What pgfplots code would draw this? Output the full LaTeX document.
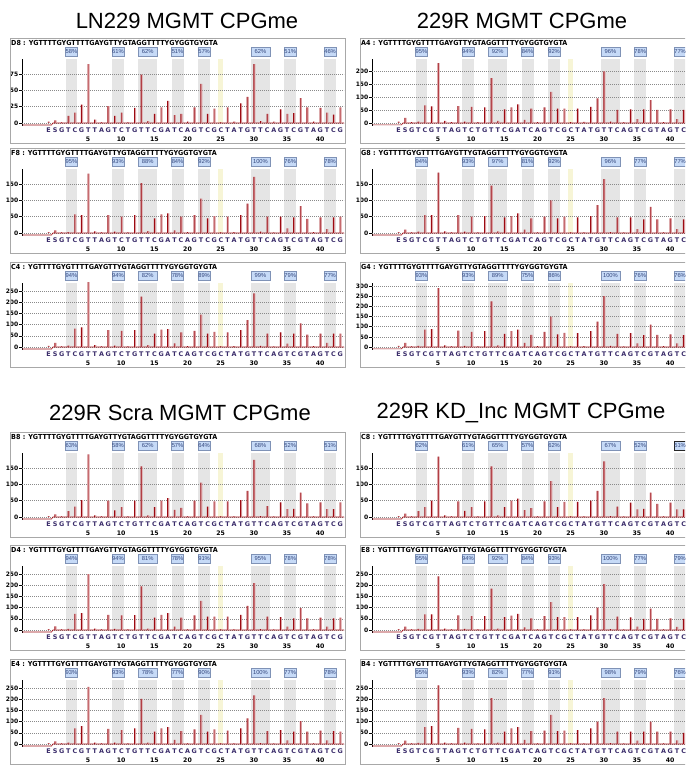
\documentclass[border=0pt]{standalone}
\usepackage{fontspec}
\setmainfont{Liberation Sans}
\newfontfamily\dv{DejaVu Sans}
\usepackage{pgfplots}
\usepackage{pgfplotstable}
\pgfplotsset{compat=1.18}
\definecolor{pk}{HTML}{9C0A12}
\definecolor{pkl}{HTML}{DDA0A3}
\definecolor{bandc}{HTML}{E5E5E5}
\definecolor{bandy}{HTML}{F7F5D6}
\definecolor{boxf}{HTML}{C6DAF7}
\definecolor{boxd}{HTML}{7F92B6}
\definecolor{pctc}{HTML}{33467C}
\definecolor{disp}{HTML}{3A2C6A}
\definecolor{frm}{HTML}{A8A8A8}
\definecolor{gridc}{HTML}{8A8A8A}

% peak heights per dispensation (E=-1, S=0, 1..43)
\pgfplotstableread[row sep=\\]{x h\\ -1 2\\ 0 4\\ 1 1\\ 2 11\\ 3 16\\ 4 28\\ 5 90\\ 6 5\\ 7 1\\ 8 26\\ 9 11\\ 10 16\\ 11 1\\ 12 23\\ 13 74\\ 14 3\\ 15 14\\ 16 24\\ 17 34\\ 18 12\\ 19 14\\ 20 2\\ 21 24\\ 22 60\\ 23 14\\ 24 22\\ 25 1\\ 26 24\\ 27 2\\ 28 30\\ 29 40\\ 30 90\\ 31 3\\ 32 14\\ 33 2\\ 34 21\\ 35 14\\ 36 15\\ 37 38\\ 38 24\\ 39 2\\ 40 23\\ 41 16\\ 42 13\\ 43 24\\}\tDeight
\pgfplotstableread[row sep=\\]{x h\\ -1 5\\ 0 20\\ 1 3\\ 2 5\\ 3 68\\ 4 64\\ 5 230\\ 6 8\\ 7 3\\ 8 65\\ 9 5\\ 10 62\\ 11 3\\ 12 60\\ 13 172\\ 14 8\\ 15 52\\ 16 60\\ 17 72\\ 18 12\\ 19 55\\ 20 3\\ 21 60\\ 22 120\\ 23 55\\ 24 55\\ 25 3\\ 26 55\\ 27 4\\ 28 62\\ 29 95\\ 30 198\\ 31 5\\ 32 50\\ 33 3\\ 34 52\\ 35 15\\ 36 52\\ 37 88\\ 38 50\\ 39 3\\ 40 52\\ 41 15\\ 42 50\\ 43 52\\}\tAfour
\pgfplotstableread[row sep=\\]{x h\\ -1 3\\ 0 8\\ 1 2\\ 2 3\\ 3 57\\ 4 55\\ 5 182\\ 6 5\\ 7 2\\ 8 55\\ 9 4\\ 10 50\\ 11 2\\ 12 55\\ 13 153\\ 14 6\\ 15 45\\ 16 57\\ 17 60\\ 18 8\\ 19 50\\ 20 3\\ 21 55\\ 22 105\\ 23 45\\ 24 52\\ 25 2\\ 26 50\\ 27 3\\ 28 55\\ 29 90\\ 30 172\\ 31 4\\ 32 50\\ 33 2\\ 34 50\\ 35 14\\ 36 48\\ 37 82\\ 38 43\\ 39 3\\ 40 48\\ 41 12\\ 42 48\\ 43 50\\}\tFeight
\pgfplotstableread[row sep=\\]{x h\\ -1 3\\ 0 10\\ 1 2\\ 2 4\\ 3 55\\ 4 55\\ 5 185\\ 6 5\\ 7 2\\ 8 55\\ 9 4\\ 10 50\\ 11 2\\ 12 52\\ 13 145\\ 14 5\\ 15 48\\ 16 52\\ 17 60\\ 18 10\\ 19 45\\ 20 2\\ 21 50\\ 22 100\\ 23 45\\ 24 50\\ 25 2\\ 26 48\\ 27 2\\ 28 52\\ 29 85\\ 30 165\\ 31 3\\ 32 48\\ 33 2\\ 34 48\\ 35 12\\ 36 42\\ 37 80\\ 38 42\\ 39 2\\ 40 45\\ 41 12\\ 42 42\\ 43 45\\}\tGeight
\pgfplotstableread[row sep=\\]{x h\\ -1 5\\ 0 18\\ 1 3\\ 2 6\\ 3 82\\ 4 88\\ 5 290\\ 6 8\\ 7 3\\ 8 75\\ 9 6\\ 10 72\\ 11 3\\ 12 75\\ 13 225\\ 14 8\\ 15 60\\ 16 78\\ 17 80\\ 18 16\\ 19 65\\ 20 4\\ 21 72\\ 22 145\\ 23 60\\ 24 68\\ 25 3\\ 26 65\\ 27 4\\ 28 75\\ 29 120\\ 30 240\\ 31 5\\ 32 60\\ 33 3\\ 34 65\\ 35 15\\ 36 60\\ 37 105\\ 38 55\\ 39 4\\ 40 60\\ 41 18\\ 42 60\\ 43 60\\}\tCfour
\pgfplotstableread[row sep=\\]{x h\\ -1 5\\ 0 20\\ 1 3\\ 2 6\\ 3 85\\ 4 88\\ 5 290\\ 6 8\\ 7 3\\ 8 80\\ 9 6\\ 10 75\\ 11 3\\ 12 78\\ 13 225\\ 14 8\\ 15 65\\ 16 78\\ 17 85\\ 18 20\\ 19 60\\ 20 4\\ 21 75\\ 22 150\\ 23 62\\ 24 70\\ 25 3\\ 26 68\\ 27 4\\ 28 78\\ 29 125\\ 30 250\\ 31 5\\ 32 65\\ 33 3\\ 34 68\\ 35 18\\ 36 58\\ 37 110\\ 38 60\\ 39 4\\ 40 62\\ 41 18\\ 42 58\\ 43 62\\}\tGfour
\pgfplotstableread[row sep=\\]{x h\\ -1 3\\ 0 8\\ 1 2\\ 2 18\\ 3 32\\ 4 52\\ 5 192\\ 6 5\\ 7 2\\ 8 50\\ 9 20\\ 10 30\\ 11 2\\ 12 50\\ 13 155\\ 14 5\\ 15 30\\ 16 50\\ 17 58\\ 18 22\\ 19 28\\ 20 2\\ 21 50\\ 22 105\\ 23 32\\ 24 48\\ 25 2\\ 26 48\\ 27 2\\ 28 52\\ 29 80\\ 30 175\\ 31 3\\ 32 33\\ 33 2\\ 34 45\\ 35 24\\ 36 25\\ 37 75\\ 38 42\\ 39 2\\ 40 45\\ 41 24\\ 42 24\\ 43 45\\}\tBeight
\pgfplotstableread[row sep=\\]{x h\\ -1 3\\ 0 10\\ 1 2\\ 2 18\\ 3 30\\ 4 50\\ 5 185\\ 6 5\\ 7 2\\ 8 48\\ 9 19\\ 10 30\\ 11 2\\ 12 48\\ 13 155\\ 14 5\\ 15 30\\ 16 50\\ 17 56\\ 18 21\\ 19 27\\ 20 2\\ 21 48\\ 22 110\\ 23 30\\ 24 46\\ 25 2\\ 26 46\\ 27 2\\ 28 50\\ 29 80\\ 30 170\\ 31 3\\ 32 32\\ 33 2\\ 34 44\\ 35 23\\ 36 25\\ 37 75\\ 38 40\\ 39 2\\ 40 44\\ 41 23\\ 42 23\\ 43 44\\}\tCeight
\pgfplotstableread[row sep=\\]{x h\\ -1 4\\ 0 16\\ 1 3\\ 2 5\\ 3 72\\ 4 75\\ 5 250\\ 6 6\\ 7 3\\ 8 68\\ 9 5\\ 10 65\\ 11 3\\ 12 66\\ 13 195\\ 14 6\\ 15 55\\ 16 68\\ 17 75\\ 18 15\\ 19 55\\ 20 3\\ 21 65\\ 22 130\\ 23 60\\ 24 60\\ 25 3\\ 26 60\\ 27 3\\ 28 68\\ 29 108\\ 30 210\\ 31 4\\ 32 60\\ 33 3\\ 34 58\\ 35 15\\ 36 52\\ 37 98\\ 38 52\\ 39 3\\ 40 55\\ 41 15\\ 42 52\\ 43 55\\}\tDfour
\pgfplotstableread[row sep=\\]{x h\\ -1 4\\ 0 15\\ 1 3\\ 2 5\\ 3 70\\ 4 70\\ 5 240\\ 6 6\\ 7 3\\ 8 65\\ 9 5\\ 10 62\\ 11 3\\ 12 62\\ 13 185\\ 14 6\\ 15 58\\ 16 64\\ 17 72\\ 18 12\\ 19 52\\ 20 3\\ 21 62\\ 22 125\\ 23 58\\ 24 58\\ 25 3\\ 26 58\\ 27 3\\ 28 65\\ 29 100\\ 30 205\\ 31 4\\ 32 60\\ 33 3\\ 34 56\\ 35 15\\ 36 50\\ 37 95\\ 38 50\\ 39 3\\ 40 52\\ 41 14\\ 42 50\\ 43 52\\}\tEeight
\pgfplotstableread[row sep=\\]{x h\\ -1 4\\ 0 12\\ 1 3\\ 2 6\\ 3 70\\ 4 80\\ 5 255\\ 6 6\\ 7 3\\ 8 68\\ 9 6\\ 10 62\\ 11 3\\ 12 70\\ 13 202\\ 14 6\\ 15 55\\ 16 70\\ 17 75\\ 18 18\\ 19 58\\ 20 3\\ 21 65\\ 22 130\\ 23 55\\ 24 65\\ 25 3\\ 26 60\\ 27 3\\ 28 70\\ 29 115\\ 30 217\\ 31 4\\ 32 58\\ 33 3\\ 34 62\\ 35 16\\ 36 55\\ 37 102\\ 38 55\\ 39 3\\ 40 60\\ 41 16\\ 42 58\\ 43 55\\}\tEfour
\pgfplotstableread[row sep=\\]{x h\\ -1 4\\ 0 15\\ 1 3\\ 2 5\\ 3 75\\ 4 80\\ 5 262\\ 6 6\\ 7 3\\ 8 72\\ 9 6\\ 10 68\\ 11 3\\ 12 65\\ 13 205\\ 14 6\\ 15 55\\ 16 70\\ 17 75\\ 18 18\\ 19 58\\ 20 3\\ 21 60\\ 22 130\\ 23 58\\ 24 60\\ 25 3\\ 26 62\\ 27 3\\ 28 70\\ 29 100\\ 30 205\\ 31 4\\ 32 55\\ 33 3\\ 34 55\\ 35 15\\ 36 55\\ 37 100\\ 38 55\\ 39 3\\ 40 55\\ 41 16\\ 42 50\\ 43 52\\}\tBfour

\pgfplotsset{pyro/.style={
  scale only axis, width=322pt, height=67pt, anchor=south west,
  xmin=-4.96, xmax=43.6, clip=false,
  axis x line=none, axis y line*=left,
  y axis line style={black, line width=0.6pt},
  xtick=\empty, tick align=outside, major tick length=3pt,
  tick style={black, line width=0.5pt},
  yticklabel style={font=\dv\bfseries\fontsize{6}{6}\selectfont, inner sep=0.5pt},
  /pgf/number format/assume math mode=true,
  scaled y ticks=false}}

\newcommand{\dl}[1]{\makebox[6.631pt]{#1}}
\def\dloop#1{\ifx#1\relax\else\dl{#1}\expandafter\dloop\fi}
\newcommand{\pb}[4][]{\node[fill=boxf, draw=boxd, line width=0.5pt, minimum width=#3, minimum height=8.5pt, inner sep=0pt, text=pctc, font=\fontsize{5.8}{5.8}\selectfont, yshift=7pt, #1] at ({axis cs:#2,0}|-{rel axis cs:0,1}) {#4\%};}
\newcommand{\pc}[9][]{\pb{2.5}{11.9pt}{#2}\pb{9.5}{11.9pt}{#3}\pb{14}{18.6pt}{#4}\pb{18.5}{11.9pt}{#5}\pb{22.5}{11.9pt}{#6}\pb{31}{18.6pt}{#7}\pb{35.5}{11.9pt}{#8}\pb[#1]{41.5}{11.9pt}{#9}}
\newcommand{\bd}[3]{\fill[#3] (axis cs:#1,0) rectangle ({axis cs:#2,0}|-{rel axis cs:0,1});}
\newcommand{\bands}{\bd{1.6}{3.4}{bandc}\bd{8.6}{10.4}{bandc}\bd{12.6}{15.4}{bandc}\bd{17.6}{19.4}{bandc}\bd{21.6}{23.4}{bandc}\bd{24.6}{25.4}{bandy}\bd{29.6}{32.4}{bandc}\bd{34.6}{36.4}{bandc}\bd{40.6}{42.4}{bandc}}

% #1 left, #2 bottom, #3 ymax, #4 ymin, #5 ticks, #6 table, #7 well, #8 baseline dip, #9 percentages
\newcommand{\pyro}[9]{%
\begin{axis}[pyro, at={(#1pt,#2pt)}, ymax=#3, ymin=#4, ytick={#5}]
\bands
\pgfplotsinvokeforeach{#5}{\draw[gridc, line width=0.45pt, dash pattern=on 0.6pt off 1.4pt] ({rel axis cs:0,0}|-{axis cs:0,##1}) -- ({rel axis cs:1,0}|-{axis cs:0,##1});}
\addplot[pk, line width=0.6pt] coordinates {(-4.9,#8) (-0.5,#8) (-0.3,0) (43.6,0)};
\addplot[ybar, bar width=1.5pt, bar shift=0.9pt, fill=pkl, draw=none] table[x=x,y=h] {#6};
\addplot[ybar, bar width=0.9pt, fill=pk, draw=none] table[x=x,y=h] {#6};
\node[anchor=west, inner sep=0pt, text=disp, font=\dv\bfseries\fontsize{6.4}{6.4}\selectfont, yshift=-7pt] at (axis cs:-1.5,0) {\dloop ESGTCGTTAGTCTGTTCGATCAGTCGCTATGTTCAGTCGTAGTCG\relax};
\pgfplotsinvokeforeach{5,10,...,40}{\node[font=\dv\bfseries\fontsize{6.2}{6.2}\selectfont, yshift=-16pt] at (axis cs:##1,0) {##1};}
\node[anchor=west, inner sep=0pt, font=\dv\bfseries\fontsize{6.9}{6.9}\selectfont, xshift=-11pt, yshift=16pt] at (rel axis cs:0,1) {\scalebox{0.93}[1]{#7 : YGTTTTGYGTTTTGAYGTTYGTAGGTTTTYGYGGTGYGTA}};
\draw[frm, line width=0.6pt] ([shift={(-12pt,21pt)}]rel axis cs:0,1) rectangle ([shift={(1pt,-17pt)}]rel axis cs:1,0);
#9
\end{axis}}

\begin{document}
\begin{tikzpicture}[x=1pt,y=1pt]
\path[use as bounding box] (0,0) rectangle (685,765);
\clip (0,0) rectangle (685,765);
\node[font=\fontsize{22}{22}\selectfont] at (187,744) {LN229 MGMT CPGme};
\node[font=\fontsize{22}{22}\selectfont] at (522,744) {229R MGMT CPGme};
\node[font=\fontsize{22}{22}\selectfont] at (180,352) {229R Scra MGMT CPGme};
\node[font=\fontsize{22}{22}\selectfont] at (521,352) {229R KD\_Inc MGMT CPGme};

\pyro{22}{639}{98}{-4.59}{0,25,50,75}{\tDeight}{D8}{-3}{\pc{58}{61}{62}{51}{57}{62}{51}{46}}
\pyro{372}{639}{246}{-11.53}{0,50,...,200}{\tAfour}{A4}{-7}{\pc{95}{94}{92}{84}{92}{96}{78}{77}}
\pyro{22}{529}{196}{-9.19}{0,50,...,150}{\tFeight}{F8}{-6}{\pc{95}{93}{88}{84}{92}{100}{76}{78}}
\pyro{372}{529}{196}{-9.19}{0,50,...,150}{\tGeight}{G8}{-6}{\pc{94}{93}{97}{81}{92}{96}{77}{77}}
\pyro{22}{415}{286}{-13.41}{0,50,...,250}{\tCfour}{C4}{-9}{\pc{94}{94}{82}{78}{89}{99}{79}{77}}
\pyro{372}{415}{315}{-14.77}{0,50,...,300}{\tGfour}{G4}{-9}{\pc{93}{93}{89}{75}{86}{100}{76}{76}}
\pyro{22}{245}{196}{-9.19}{0,50,...,150}{\tBeight}{B8}{-6}{\pc{63}{58}{62}{57}{64}{68}{52}{51}}
\pyro{372}{245}{196}{-9.19}{0,50,...,150}{\tCeight}{C8}{-6}{\pc[draw=black!85, line width=0.9pt]{62}{61}{65}{57}{62}{67}{52}{51}}
\pyro{22}{132}{286}{-13.41}{0,50,...,250}{\tDfour}{D4}{-9}{\pc{94}{94}{81}{78}{91}{95}{78}{78}}
\pyro{372}{132}{286}{-13.41}{0,50,...,250}{\tEeight}{E8}{-9}{\pc{95}{94}{92}{84}{93}{100}{77}{79}}
\pyro{22}{18}{286}{-13.41}{0,50,...,250}{\tEfour}{E4}{-9}{\pc{93}{93}{78}{77}{90}{100}{77}{78}}
\pyro{372}{18}{286}{-13.41}{0,50,...,250}{\tBfour}{B4}{-9}{\pc{95}{93}{82}{77}{91}{98}{79}{76}}
\end{tikzpicture}
\end{document}
